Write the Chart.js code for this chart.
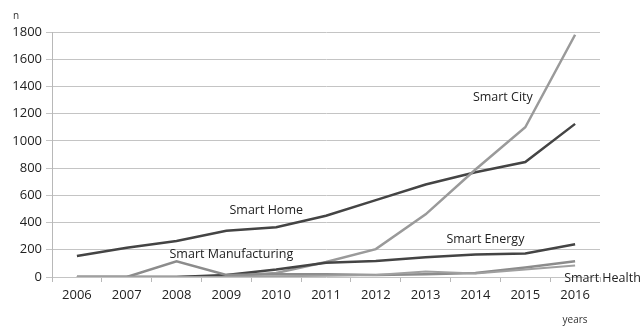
<!DOCTYPE html>
<html>
<head>
<meta charset="utf-8">
<script src="https://cdn.jsdelivr.net/npm/chart.js@4/dist/chart.umd.min.js"></script>
<style>
    html, body { margin: 0; padding: 0; background: #fff; }
    #wrap { width: 644px; height: 327px; position: relative; }
</style>
</head>
<body>
<div id="wrap"><canvas id="trendChart"></canvas></div>
<script>
const years = ['2006', '2007', '2008', '2009', '2010', '2011', '2012', '2013', '2014', '2015', '2016'];
const smartCity = [0, 0, 0, 5, 30, 110, 205, 460, 790, 1100, 1780];
const smartHome = [155, 215, 265, 340, 365, 450, 565, 680, 770, 845, 1125];
const smartEnergy = [0, 0, 0, 15, 55, 105, 118, 145, 165, 172, 240];
const smartManufacturing = [0, 0, 115, 15, 20, 20, 15, 20, 30, 70, 115];
const smartHealth = [0, 0, 0, 0, 5, 10, 15, 40, 25, 55, 85];

// label anchors in data units: [category index, value]
const seriesLabels = [
    { text: 'Smart City', at: [8.55, 1320] },
    { text: 'Smart Home', at: [3.8, 490] },
    { text: 'Smart Manufacturing', at: [3.1, 165] },
    { text: 'Smart Energy', at: [8.2, 275] },
    { text: 'Smart Health', at: [10.55, -12] }
];

const FONT = '"Open Sans", "Liberation Sans", sans-serif';

const lineLabels = {
    id: 'lineLabels',
    afterDatasetsDraw(chart) {
        const ctx = chart.ctx;
        const xs = chart.scales.x;
        const ys = chart.scales.y;
        ctx.save();
        ctx.font = '12.5px ' + FONT;
        ctx.fillStyle = '#222';
        ctx.textAlign = 'center';
        ctx.textBaseline = 'middle';
        seriesLabels.forEach(l => {
            const x = xs.getPixelForValue(l.at[0]);
            const y = ys.getPixelForValue(l.at[1]);
            ctx.fillText(l.text, x, y);
        });
        // axis names
        ctx.font = '10px ' + FONT;
        ctx.fillStyle = '#333';
        ctx.fillText('n', 16, 16);
        ctx.fillText('years', xs.getPixelForValue(10), 320);
        ctx.restore();
    }
};

function line(data, color, width) {
    return {
        data: data,
        borderColor: color,
        backgroundColor: color,
        borderWidth: width,
        pointRadius: 0,
        tension: 0,
        fill: false
    };
}

new Chart(document.getElementById('trendChart').getContext('2d'), {
    type: 'line',
    data: {
        labels: years,
        datasets: [
            line(smartHealth, '#a0a0a0', 2),
            line(smartManufacturing, '#8c8c8c', 2.5),
            line(smartEnergy, '#444444', 2.5),
            line(smartCity, '#9a9a9a', 2.5),
            line(smartHome, '#444444', 2.5)
        ]
    },
    options: {
        responsive: true,
        maintainAspectRatio: false,
        animation: false,
        layout: { padding: { top: 32, right: 44, left: 0, bottom: 0 } },
        plugins: {
            legend: { display: false },
            tooltip: { enabled: false }
        },
        scales: {
            x: {
                offset: true,
                grid: {
                    offset: true,
                    drawOnChartArea: false,
                    drawTicks: true,
                    tickLength: 5,
                    color: '#b8b8b8'
                },
                border: { display: false },
                ticks: {
                    color: '#222',
                    font: { family: FONT, size: 13 },
                    padding: 5,
                    maxRotation: 0
                },
                afterFit(scale) { scale.height = 50; }
            },
            y: {
                min: 0,
                max: 1800,
                grid: {
                    color: '#c4c4c4',
                    lineWidth: 1,
                    tickLength: 6
                },
                border: { display: true, color: '#b8b8b8' },
                ticks: {
                    stepSize: 200,
                    color: '#222',
                    font: { family: FONT, size: 13 },
                    padding: 4,
                    callback: v => String(v)
                },
                afterFit(scale) { scale.width = 52; }
            }
        }
    },
    plugins: [lineLabels]
});
</script>
</body>
</html>
